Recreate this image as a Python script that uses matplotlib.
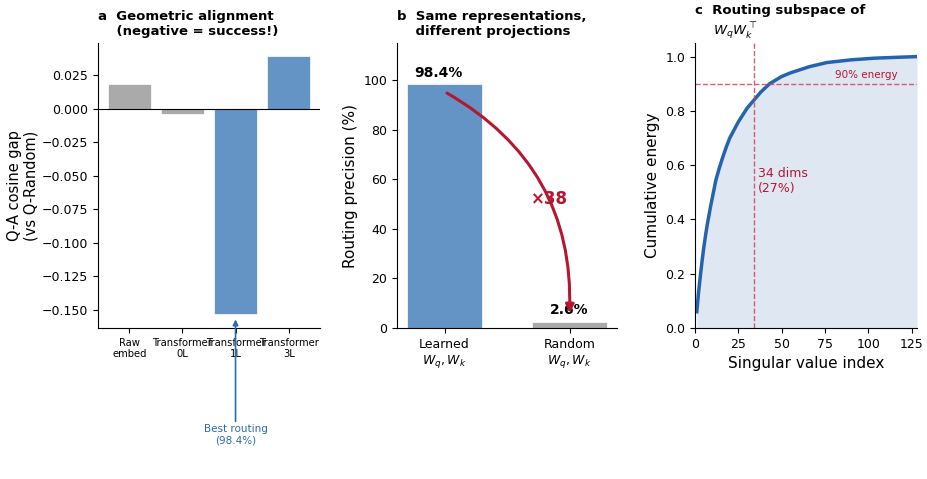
import matplotlib.pyplot as plt

# =========================
# DATA
# =========================

# panel a: Q-A cosine gap
models = ["Raw\nembed", "Transformer\n0L", "Transformer\n1L", "Transformer\n3L"]
cos_gap = [0.018, -0.004, -0.153, 0.039]
gap_colors = ["#aaaaaa", "#aaaaaa", "#6494c6", "#6494c6"]

# panel b: routing precision
proj_labels = ["Learned\n$W_q, W_k$", "Random\n$W_q, W_k$"]
precision = [98.4, 2.6]
prec_colors = ["#6494c6", "#aaaaaa"]

# panel c: cumulative singular value energy
sv_index = [1, 2, 3, 4, 5, 6, 7, 9, 12, 14, 16, 18, 20, 25, 30, 34, 38, 43,
            50, 55, 66, 76, 90, 103, 115, 128]
cum_energy = [0.06, 0.13, 0.19, 0.245, 0.295, 0.34, 0.38, 0.45, 0.545, 0.59,
              0.63, 0.667, 0.70, 0.76, 0.81, 0.84, 0.87, 0.90, 0.927, 0.94,
              0.963, 0.978, 0.988, 0.994, 0.997, 1.0]
dims_90 = 34

RED = "#b5172f"
BLUE = "#2463ad"

plt.rcParams['font.size'] = 9

fig = plt.figure(figsize=(9.28, 4.79), dpi=100)
ax_a = fig.add_axes([0.1056, 0.3152, 0.2392, 0.595])
ax_b = fig.add_axes([0.4278, 0.3152, 0.2371, 0.595])
ax_c = fig.add_axes([0.749, 0.3152, 0.2392, 0.595])

for ax in (ax_a, ax_b, ax_c):
    ax.spines['top'].set_visible(False)
    ax.spines['right'].set_visible(False)

# =========================
# PANEL A
# =========================
xa = range(len(models))
ax_a.bar(xa, cos_gap, width=0.8, color=gap_colors, edgecolor="white", linewidth=0.5)
ax_a.axhline(0, color="black", lw=0.8)
ax_a.set_xticks(list(xa))
ax_a.set_xticklabels(models, fontsize=7.2)
ax_a.set_ylim(-0.1634, 0.0488)
ax_a.set_ylabel("Q-A cosine gap\n(vs Q-Random)", fontsize=10.5, labelpad=2)
ax_a.set_title("a  Geometric alignment\n    (negative = success!)", loc="left",
               fontsize=9.5, fontweight="bold")
ax_a.annotate("Best routing\n(98.4%)", xy=(2, -0.157), xytext=(2, -0.235),
              ha="center", va="top", fontsize=7.5, color="#2b6cb0",
              annotation_clip=False,
              arrowprops=dict(arrowstyle="-|>", color="#2b6cb0", lw=1.2,
                              mutation_scale=8, shrinkA=0, shrinkB=0))

# =========================
# PANEL B
# =========================
xb = range(len(proj_labels))
ax_b.bar(xb, precision, width=0.6, color=prec_colors, edgecolor="white", linewidth=0.5)
for i, v in enumerate(precision):
    ax_b.text(i - 0.05 if i == 0 else i, v + 1.8, f"{v:.1f}%", ha="center", va="bottom",
              fontsize=10, fontweight="bold")
ax_b.set_xticks(list(xb))
ax_b.set_xticklabels(proj_labels, fontsize=9)
ax_b.set_ylim(0, 115)
ax_b.set_yticks([0, 20, 40, 60, 80, 100])
ax_b.set_ylabel("Routing precision (%)", fontsize=11)
ax_b.set_title("b  Same representations,\n    different projections", loc="left",
               fontsize=9.5, fontweight="bold")
ax_b.annotate("", xy=(1.0, 6.0), xytext=(0.02, 94.8),
              arrowprops=dict(arrowstyle="-|>", color=RED, lw=2.2,
                              mutation_scale=12, shrinkA=0, shrinkB=0,
                              connectionstyle="arc3,rad=-0.3"))
ratio = precision[0] / precision[1]
ax_b.text(0.84, 52, f"×{ratio:.0f}", ha="center", va="center", fontsize=12,
          fontweight="bold", color=RED)

# =========================
# PANEL C
# =========================
ax_c.fill_between(sv_index, 0, cum_energy, color=BLUE, alpha=0.15, lw=0)
ax_c.plot(sv_index, cum_energy, color=BLUE, lw=2.5)
ax_c.axhline(0.9, color="#d0455a", ls="--", lw=1, alpha=0.85)
ax_c.axvline(dims_90, color="#d0455a", ls="--", lw=1, alpha=0.85)
ax_c.text(98.5, 0.933, "90% energy", ha="center", va="center", fontsize=7.5, color=RED)
ax_c.text(36.5, 0.54, f"{dims_90} dims\n(27%)", ha="left", va="center", fontsize=9, color=RED)
ax_c.set_xlim(0, 128)
ax_c.set_ylim(0, 1.05)
ax_c.set_xticks([0, 25, 50, 75, 100, 125])
ax_c.set_xlabel("Singular value index", fontsize=11)
ax_c.set_ylabel("Cumulative energy", fontsize=11)
ax_c.set_title("c  Routing subspace of\n    $W_qW_k^\\top$", loc="left",
               fontsize=9.5, fontweight="bold")

fig.savefig("out.png", dpi=100)
